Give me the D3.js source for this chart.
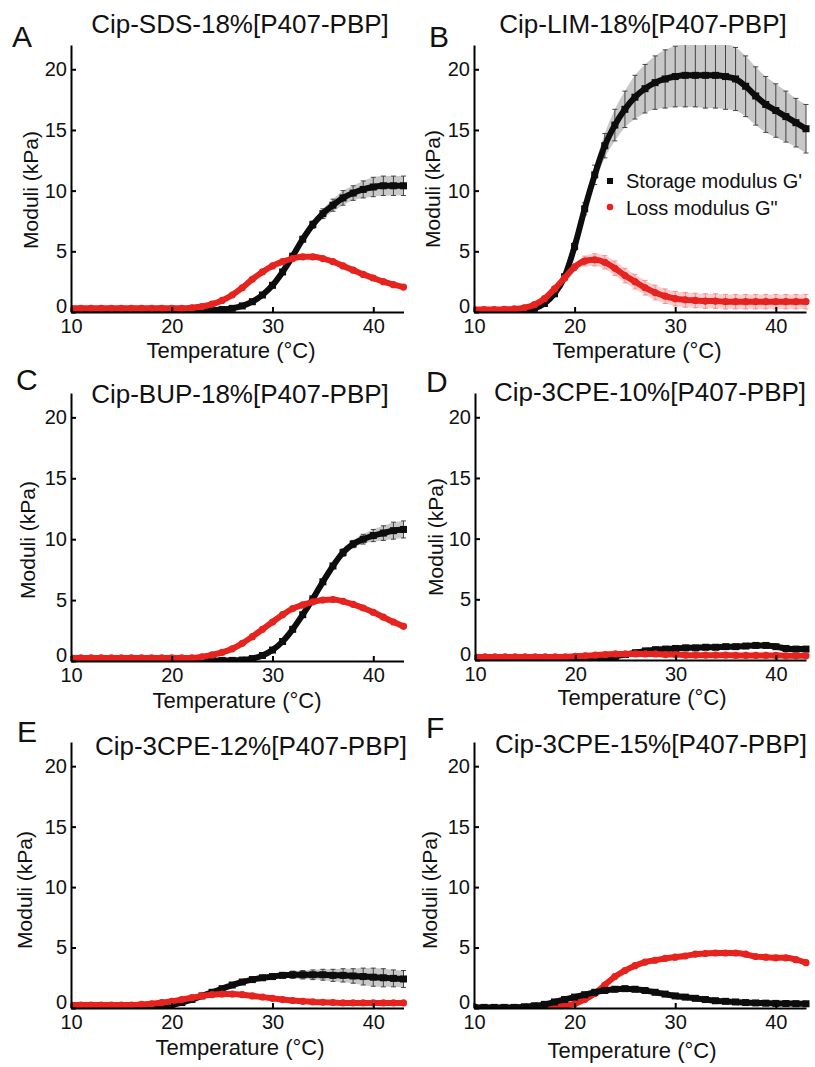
<!DOCTYPE html>
<html>
<head>
<meta charset="utf-8">
<script src="https://cdn.jsdelivr.net/npm/d3@7"></script>
<style>
  body { margin: 0; background: #fff; }
  svg { font-family: 'Liberation Sans', Arial, sans-serif; }
  .axis path, .axis line { stroke: #000; stroke-width: 2; }
  .axis text { font-size: 20px; fill: #111; font-family: 'Liberation Sans', Arial, sans-serif; }
</style>
</head>
<body>
<svg id="chart" width="815" height="1067"></svg>
<script>
// temperature (°C) for every reading
var temps = [10, 11, 12, 13, 14, 15, 16, 17, 18, 19, 20, 21, 22, 23, 24, 25, 26,
  27, 28, 29, 30, 31, 32, 33, 34, 35, 36, 37, 38, 39, 40, 41, 42, 43]

var panelLetters = ['A', 'B', 'C', 'D', 'E', 'F']
var panelTitles = ['Cip-SDS-18%[P407-PBP]', 'Cip-LIM-18%[P407-PBP]', 'Cip-BUP-18%[P407-PBP]',
  'Cip-3CPE-10%[P407-PBP]', 'Cip-3CPE-12%[P407-PBP]', 'Cip-3CPE-15%[P407-PBP]']
var xTicks = [10, 20, 30, 40]
var yTicks = [0, 5, 10, 15, 20]
var legendLabels = ["Storage modulus G'", 'Loss modulus G"']

// storage modulus G' (kPa)
var gA = [0.05, 0.05, 0.05, 0.05, 0.05, 0.05, 0.05, 0.05, 0.05, 0.05, 0.05, 0.06, 0.08, 0.1, 0.15, 0.2, 0.3,
  0.5, 0.85, 1.4, 2.2, 3.3, 4.6, 6.0, 7.2, 8.1, 8.8, 9.4, 9.8, 10.1, 10.3, 10.4, 10.4, 10.4]
var gB = [0, 0, 0, 0.02, 0.05, 0.1, 0.3, 0.7, 1.5, 2.9, 5.4, 8.5, 11.3, 13.7, 15.4, 16.7, 17.7,
  18.4, 18.9, 19.2, 19.4, 19.5, 19.5, 19.5, 19.5, 19.4, 19.2, 18.6, 17.8, 17.1, 16.6, 16.1, 15.6, 15.1]
var gC = [0.05, 0.05, 0.05, 0.05, 0.05, 0.05, 0.05, 0.05, 0.05, 0.05, 0.05, 0.05, 0.05, 0.05, 0.05, 0.05, 0.05,
  0.08, 0.2, 0.45, 0.9, 1.6, 2.6, 3.8, 5.1, 6.5, 7.8, 8.9, 9.6, 10.0, 10.3, 10.5, 10.7, 10.8]
var gD = [0.02, 0.02, 0.02, 0.02, 0.02, 0.02, 0.02, 0.02, 0.02, 0.02, 0.02, 0.02, 0.05, 0.15, 0.3, 0.45, 0.6,
  0.75, 0.85, 0.9, 0.95, 1.0, 1.0, 1.05, 1.05, 1.1, 1.1, 1.15, 1.2, 1.2, 1.1, 0.95, 0.9, 0.9]
var gE = [0.02, 0.02, 0.02, 0.02, 0.02, 0.02, 0.02, 0.02, 0.05, 0.1, 0.25, 0.45, 0.7, 1.0, 1.3, 1.6, 1.9,
  2.15, 2.35, 2.5, 2.6, 2.7, 2.75, 2.75, 2.75, 2.75, 2.7, 2.7, 2.65, 2.6, 2.55, 2.5, 2.45, 2.4]
var gF = [0.05, 0.05, 0.05, 0.05, 0.05, 0.1, 0.18, 0.3, 0.5, 0.7, 0.9, 1.1, 1.3, 1.45, 1.55, 1.6, 1.55,
  1.45, 1.3, 1.15, 1.0, 0.9, 0.8, 0.7, 0.6, 0.55, 0.5, 0.45, 0.42, 0.4, 0.38, 0.37, 0.36, 0.35]

// loss modulus G'' (kPa)
var lossA = [0.3, 0.3, 0.3, 0.3, 0.3, 0.3, 0.3, 0.3, 0.3, 0.3, 0.3, 0.3, 0.35, 0.45, 0.65, 0.95, 1.4,
  2.0, 2.7, 3.3, 3.8, 4.15, 4.4, 4.55, 4.55, 4.4, 4.15, 3.8, 3.45, 3.1, 2.8, 2.5, 2.25, 2.05]
var lossB = [0.2, 0.2, 0.2, 0.22, 0.25, 0.35, 0.6, 1.1, 1.9, 2.8, 3.7, 4.2, 4.3, 4.1, 3.6, 3.0, 2.5,
  2.0, 1.6, 1.3, 1.1, 1.0, 0.95, 0.9, 0.9, 0.85, 0.85, 0.85, 0.85, 0.85, 0.85, 0.85, 0.85, 0.85]
var lossC = [0.25, 0.25, 0.25, 0.25, 0.25, 0.25, 0.25, 0.25, 0.25, 0.25, 0.25, 0.25, 0.25, 0.35, 0.5, 0.7, 1.0,
  1.45, 2.0, 2.6, 3.2, 3.8, 4.3, 4.6, 4.85, 5.0, 5.05, 4.9, 4.65, 4.35, 4.0, 3.6, 3.2, 2.85]
var lossD = [0.25, 0.25, 0.25, 0.25, 0.25, 0.25, 0.25, 0.25, 0.25, 0.25, 0.3, 0.35, 0.4, 0.45, 0.5, 0.5, 0.5,
  0.5, 0.5, 0.45, 0.45, 0.4, 0.4, 0.4, 0.4, 0.4, 0.38, 0.38, 0.38, 0.38, 0.38, 0.35, 0.35, 0.35]
var lossE = [0.25, 0.25, 0.25, 0.25, 0.25, 0.25, 0.25, 0.3, 0.35, 0.45, 0.55, 0.7, 0.85, 1.0, 1.1, 1.15, 1.15,
  1.1, 1.0, 0.9, 0.8, 0.7, 0.62, 0.55, 0.5, 0.47, 0.45, 0.42, 0.42, 0.42, 0.42, 0.42, 0.42, 0.42]
var lossF = [0.02, 0.02, 0.02, 0.02, 0.02, 0.02, 0.02, 0.05, 0.1, 0.2, 0.35, 0.7, 1.2, 1.9, 2.6, 3.1, 3.5,
  3.8, 3.95, 4.1, 4.2, 4.3, 4.45, 4.5, 4.55, 4.55, 4.55, 4.45, 4.25, 4.2, 4.15, 4.15, 4.0, 3.75]

// standard deviation of G' (kPa), 0 = no bar drawn
var errGA = [0, 0, 0, 0, 0, 0, 0, 0, 0, 0, 0, 0, 0, 0, 0, 0, 0,
  0, 0, 0, 0, 0, 0, 0, 0.3, 0.4, 0.5, 0.6, 0.6, 0.7, 0.8, 0.8, 0.8, 0.8]
var errGB = [0, 0, 0, 0, 0, 0, 0, 0, 0, 0, 0.3, 0.5, 0.8, 1.0, 1.3, 1.5, 1.8,
  2.0, 2.2, 2.4, 2.5, 2.6, 2.6, 2.7, 2.7, 2.7, 2.6, 2.5, 2.4, 2.3, 2.2, 2.1, 2.0, 2.0]
var errGC = [0, 0, 0, 0, 0, 0, 0, 0, 0, 0, 0, 0, 0, 0, 0, 0, 0,
  0, 0, 0, 0, 0, 0, 0, 0, 0, 0, 0.3, 0.3, 0.4, 0.5, 0.6, 0.7, 0.7]
var errGE = [0, 0, 0, 0, 0, 0, 0, 0, 0, 0, 0, 0, 0, 0, 0, 0, 0,
  0, 0, 0, 0, 0, 0.3, 0.35, 0.4, 0.45, 0.5, 0.55, 0.6, 0.7, 0.75, 0.75, 0.7, 0.7]
var noErr = temps.map(function () { return 0 })

// standard deviation of G'' (kPa)
var errLB = [0, 0, 0, 0, 0, 0, 0, 0, 0, 0.2, 0.3, 0.4, 0.5, 0.55, 0.6, 0.6, 0.6,
  0.6, 0.6, 0.6, 0.6, 0.6, 0.6, 0.6, 0.6, 0.6, 0.6, 0.6, 0.6, 0.6, 0.6, 0.6, 0.6, 0.6]

var storage = [gA, gB, gC, gD, gE, gF]
var loss = [lossA, lossB, lossC, lossD, lossE, lossF]
var storageErr = [errGA, errGB, errGC, noErr, errGE, noErr]
var lossErr = [noErr, errLB, noErr, noErr, noErr, noErr]

// where each panel sits on the page
var layout = [
  {x0: 71, x1: 403.5, top: 45, bot: 312, title: [240, 33], letter: [12, 47], ylab: [31, 190], xlab: [231, 358]},
  {x0: 474, x1: 806, top: 45, bot: 312, title: [643, 33], letter: [429, 47], ylab: [433, 189], xlab: [637, 358]},
  {x0: 71, x1: 403.5, top: 393, bot: 661, title: [240, 403], letter: [16, 390], ylab: [28, 540], xlab: [237, 708]},
  {x0: 475, x1: 806, top: 393, bot: 660, title: [650, 401], letter: [426, 392], ylab: [436, 537], xlab: [642, 705]},
  {x0: 71, x1: 403.5, top: 742, bot: 1008, title: [251, 755], letter: [17, 742], ylab: [25, 890], xlab: [240, 1055]},
  {x0: 474, x1: 806, top: 742, bot: 1008, title: [651, 753], letter: [426, 738], ylab: [430, 890], xlab: [632, 1058]}
]
var redOnTop = [true, true, true, true, true, false]

var BLACK = '#0d0d0d'
var RED = '#e5231f'

var svg = d3.select('#chart')

panelLetters.forEach(function (letter, p) {
  var L = layout[p]
  var x = d3.scaleLinear().domain([10, 43]).range([L.x0, L.x1])
  var y = d3.scaleLinear().domain([0, 22]).range([L.bot, L.top])

  var g = svg.append('g').attr('class', 'panel')

  svg.append('clipPath').attr('id', 'clip' + p)
    .append('rect')
    .attr('x', L.x0).attr('y', L.top)
    .attr('width', L.x1 - L.x0 + 4).attr('height', L.bot - L.top)

  var plot = g.append('g').attr('clip-path', 'url(#clip' + p + ')')

  var blackPts = temps.map(function (t, i) { return {t: t, v: storage[p][i], e: storageErr[p][i]} })
  var redPts = temps.map(function (t, i) { return {t: t, v: loss[p][i], e: lossErr[p][i]} })

  function drawSeries (pts, colour, barColour, bandColour, square) {
    var s = plot.append('g')
    var band = d3.area()
      .defined(function (d) { return d.e > 0 })
      .curve(d3.curveMonotoneX)
      .x(function (d) { return x(d.t) })
      .y0(function (d) { return y(d.v - d.e) })
      .y1(function (d) { return y(d.v + d.e) })
    s.append('path').datum(pts)
      .attr('d', band)
      .attr('fill', bandColour)
      .attr('opacity', 0.55)

    var bars = s.selectAll('.bar').data(pts.filter(function (d) { return d.e > 0 }))
      .enter().append('g').attr('class', 'bar')
      .attr('stroke', barColour).attr('stroke-width', 0.9)
    bars.append('line')
      .attr('x1', function (d) { return x(d.t) }).attr('x2', function (d) { return x(d.t) })
      .attr('y1', function (d) { return y(d.v - d.e) }).attr('y2', function (d) { return y(d.v + d.e) })
    bars.append('line')
      .attr('x1', function (d) { return x(d.t) - 2.5 }).attr('x2', function (d) { return x(d.t) + 2.5 })
      .attr('y1', function (d) { return y(d.v + d.e) }).attr('y2', function (d) { return y(d.v + d.e) })
    bars.append('line')
      .attr('x1', function (d) { return x(d.t) - 2.5 }).attr('x2', function (d) { return x(d.t) + 2.5 })
      .attr('y1', function (d) { return y(d.v - d.e) }).attr('y2', function (d) { return y(d.v - d.e) })

    var line = d3.line()
      .curve(d3.curveMonotoneX)
      .x(function (d) { return x(d.t) })
      .y(function (d) { return y(d.v) })
    s.append('path').datum(pts)
      .attr('d', line)
      .attr('fill', 'none')
      .attr('stroke', colour)
      .attr('stroke-width', 6)
      .attr('stroke-linejoin', 'round')
      .attr('stroke-linecap', 'round')

    if (square) {
      s.selectAll('.mk').data(pts).enter().append('rect')
        .attr('x', function (d) { return x(d.t) - 3.5 })
        .attr('y', function (d) { return y(d.v) - 3.5 })
        .attr('width', 7).attr('height', 7)
        .attr('fill', colour)
    } else {
      s.selectAll('.mk').data(pts).enter().append('circle')
        .attr('cx', function (d) { return x(d.t) })
        .attr('cy', function (d) { return y(d.v) })
        .attr('r', 3.6)
        .attr('fill', colour)
    }
  }

  if (redOnTop[p]) {
    drawSeries(blackPts, BLACK, '#333', '#9a9a9a', true)
    drawSeries(redPts, RED, '#f08a8a', '#f4a6a6', false)
  } else {
    drawSeries(redPts, RED, '#f08a8a', '#f4a6a6', false)
    drawSeries(blackPts, BLACK, '#333', '#9a9a9a', true)
  }

  // axes, ticks pointing inwards
  g.append('g').attr('class', 'axis')
    .attr('transform', 'translate(0,' + L.bot + ')')
    .call(d3.axisBottom(x).tickValues(xTicks).tickSizeInner(-5).tickSizeOuter(0).tickPadding(7))
  var yAxis = g.append('g').attr('class', 'axis')
    .attr('transform', 'translate(' + L.x0 + ',0)')
    .call(d3.axisLeft(y).tickValues(yTicks).tickSizeInner(-5).tickSizeOuter(0).tickPadding(4))
  // the zero label sits a little above the corner, clear of the x labels
  yAxis.selectAll('.tick text').filter(function (d) { return d === 0 }).attr('dy', '0em')

  g.append('text')
    .attr('x', L.title[0]).attr('y', L.title[1])
    .attr('text-anchor', 'middle')
    .style('font-size', '26px').style('fill', '#111')
    .text(panelTitles[p])

  g.append('text')
    .attr('x', L.letter[0]).attr('y', L.letter[1])
    .style('font-size', '30px').style('fill', '#111')
    .text(letter)

  g.append('text')
    .attr('transform', 'translate(' + L.ylab[0] + ',' + L.ylab[1] + ') rotate(-90)')
    .attr('text-anchor', 'middle').attr('dy', '0.35em')
    .style('font-size', '21px').style('fill', '#111')
    .text('Moduli (kPa)')

  g.append('text')
    .attr('x', L.xlab[0]).attr('y', L.xlab[1])
    .attr('text-anchor', 'middle')
    .style('font-size', '22px').style('fill', '#111')
    .text('Temperature (°C)')

  // legend only in panel B
  if (p === 1) {
    var lg = g.append('g')
    lg.append('rect').attr('x', 607).attr('y', 178).attr('width', 6).attr('height', 6).attr('fill', BLACK)
    lg.append('circle').attr('cx', 610).attr('cy', 207).attr('r', 3.3).attr('fill', RED)
    lg.selectAll('.lt').data(legendLabels).enter().append('text')
      .attr('x', 626)
      .attr('y', function (d, i) { return 188 + i * 27 })
      .style('font-size', '20px').style('fill', '#111')
      .text(function (d) { return d })
  }
})
</script>
</body>
</html>
